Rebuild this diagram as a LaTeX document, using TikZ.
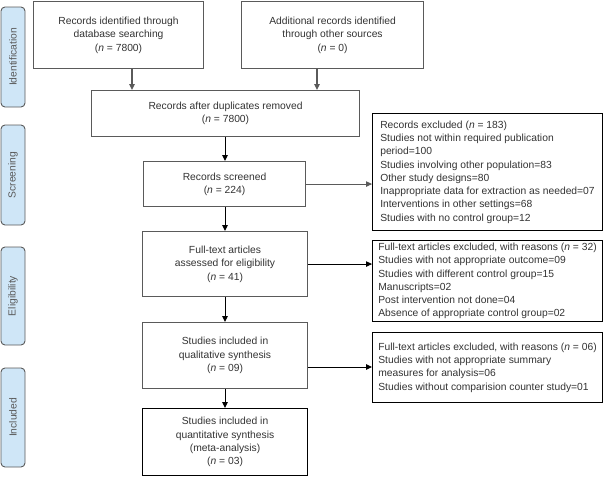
\documentclass[tikz,border=0pt]{standalone}
\usepackage{fontspec}
\setmainfont{Liberation Sans}
\usetikzlibrary{arrows.meta}
\definecolor{txt}{HTML}{333333}
\definecolor{bordgray}{HTML}{5A5A5A}
\definecolor{sidefill}{HTML}{CFE6F7}
\tikzset{
  every node/.style={font=\fontsize{10.3}{13.3}\selectfont, text=txt},
  cbox/.style={draw=bordgray, line width=1.1pt, fill=white, align=center, anchor=north west, inner sep=2pt},
  xbox/.style={draw=black, line width=1pt, fill=white, align=left, anchor=north west, inner xsep=2pt, inner ysep=2pt, minimum width=230pt},
  side/.style={draw=bordgray, line width=0.9pt, fill=sidefill, rounded corners=4pt, rotate=90, minimum height=24pt, inner sep=0pt, text=bordgray},
  arr/.style={-{Triangle[length=6pt,width=5.5pt]}, line width=1pt, draw=black},
  garr/.style={arr, draw=bordgray, line width=1.5pt}
}
\begin{document}
\begin{tikzpicture}[x=1pt,y=-1pt]
\useasboundingbox (0,0) rectangle (606,477);
% side labels
\node[side, minimum width=100pt] (s1) at (13,57) {Identification};
\node[side, minimum width=100pt] (s2) at (13,175) {Screening};
\node[side, minimum width=98pt] (s3) at (13,296) {Eligibility};
\node[side, minimum width=99pt] (s4) at (13,417.5) {Included};
% main boxes
\node[cbox, minimum width=170pt, minimum height=67pt] (A) at (33,1) {Records identified through\\database searching\\(\textit{n} = 7800)};
\node[cbox, minimum width=182pt, minimum height=67pt] (B) at (241,1) {Additional records identified\\through other sources\\(\textit{n} = 0)};
\node[cbox, minimum width=268pt, minimum height=46pt] (C) at (91,90) {Records after duplicates removed\\(\textit{n} = 7800)};
\node[cbox, minimum width=162pt, minimum height=45pt] (D) at (143,161) {Records screened\\(\textit{n} = 224)};
\node[cbox, minimum width=165pt, minimum height=65pt] (E) at (142,231) {Full-text articles\\assessed for eligibility\\(\textit{n} = 41)};
\node[cbox, minimum width=165pt, minimum height=66pt] (F) at (142,322) {Studies included in\\qualitative synthesis\\(\textit{n} = 09)};
\node[cbox, minimum width=165pt, minimum height=67pt, draw=black] (G) at (142,408) {Studies included in\\quantitative synthesis\\(meta-analysis)\\(\textit{n} = 03)};
% exclusion boxes
\node[xbox, minimum height=117pt] (X1) at (372,113) {Records excluded (\textit{n} = 183)\\Studies not within required publication\\period=100\\Studies involving other population=83\\Other study designs=80\\Inappropriate data for extraction as needed=07\\Interventions in other settings=68\\Studies with no control group=12};
\node[xbox, minimum height=81pt] (X2) at (372,240) {Full-text articles excluded, with reasons (\textit{n} = 32)\\Studies with not appropriate outcome=09\\Studies with different control group=15\\Manuscripts=02\\Post intervention not done=04\\Absence of appropriate control group=02};
\node[xbox, minimum height=70pt] (X3) at (372,332) {Full-text articles excluded, with reasons (\textit{n} = 06)\\Studies with not appropriate summary\\measures for analysis=06\\Studies without comparision counter study=01};
% connectors
\draw[garr] (A.south -| 132,0) -- (C.north -| 132,0);
\draw[garr] (B.south -| 317,0) -- (C.north -| 317,0);
\draw[arr] (C.south -| 225,0) -- (D.north -| 225,0);
\draw[arr] (D.south -| 225,0) -- (E.north -| 225,0);
\draw[arr] (E.south -| 225,0) -- (F.north -| 225,0);
\draw[arr] (F.south -| 225,0) -- (G.north -| 225,0);
\draw[arr, draw=bordgray] (D.east) -- (D.east -| X1.west);
\draw[arr] (E.east) -- (E.east -| X2.west);
\draw[arr] (F.east |- 0,367) -- (X3.west |- 0,367);
\end{tikzpicture}
\end{document}
